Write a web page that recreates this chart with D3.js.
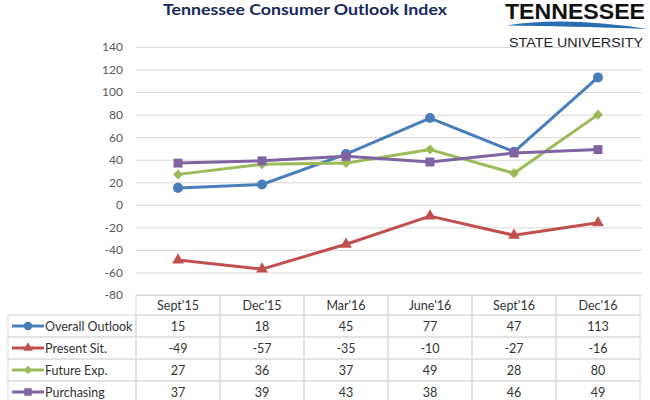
<!DOCTYPE html>
<html lang="en">
<head>
    <meta charset="UTF-8">
    <title>Tennessee Consumer Outlook Index</title>
    <script src="https://d3js.org/d3.v7.min.js"></script>
    <style>
        body { margin: 0; background: #fff; }
        text { font-family: Lato, "Open Sans", sans-serif; }
        .grid line { stroke: #d9d9d9; }
        .cell { fill: none; stroke: #d9d9d9; }
    </style>
</head>
<body>
    <svg id="chart" width="650" height="400"></svg>

    <script>
        // Data
        const categories = ["Sept'15", "Dec'15", "Mar'16", "June'16", "Sept'16", "Dec'16"];
        const overall = [15, 18, 45, 77, 47, 113];
        const present = [-49, -57, -35, -10, -27, -16];
        const future = [27, 36, 37, 49, 28, 80];
        const purchasing = [37, 39, 43, 38, 46, 49];
        const seriesNames = ["Overall Outlook", "Present Sit.", "Future Exp.", "Purchasing"];
        const yTicks = [-80, -60, -40, -20, 0, 20, 40, 60, 80, 100, 120, 140];

        const series = [
            { name: seriesNames[0], values: overall, color: "#4a7ebb", symbol: d3.symbolCircle, size: 80, rot: 0 },
            { name: seriesNames[1], values: present, color: "#c0504d", symbol: d3.symbolTriangle, size: 60, rot: 0 },
            { name: seriesNames[2], values: future, color: "#9bbb59", symbol: d3.symbolSquare, size: 50, rot: 45 },
            { name: seriesNames[3], values: purchasing, color: "#8064a2", symbol: d3.symbolSquare, size: 80, rot: 0 }
        ];

        const svg = d3.select("#chart");

        // Scales
        const x = d3.scaleBand().domain(categories).range([136, 640]);
        const y = d3.scaleLinear().domain([-80, 140]).range([295, 47]);

        // Title
        svg.append("text")
            .attr("x", 163).attr("y", 15)
            .attr("textLength", 284).attr("lengthAdjust", "spacingAndGlyphs")
            .style("font-size", "15px").style("font-weight", "bold")
            .attr("fill", "#17295e")
            .text("Tennessee Consumer Outlook Index");

        // Logo
        svg.append("text")
            .attr("x", 505).attr("y", 18.5)
            .attr("textLength", 140).attr("lengthAdjust", "spacingAndGlyphs")
            .style("font-family", "'Liberation Sans Narrow', 'Liberation Sans', sans-serif")
            .style("font-size", "22px").style("font-weight", "bold")
            .attr("fill", "#111")
            .text("TENNESSEE");
        svg.append("path")
            .attr("d", "M506,25.5 Q565,16 648,29 Q565,26 506,25.5 Z")
            .attr("fill", "#2a6db5");
        svg.append("text")
            .attr("x", 509).attr("y", 46.5)
            .attr("textLength", 134).attr("lengthAdjust", "spacingAndGlyphs")
            .style("font-family", "'Liberation Sans', sans-serif")
            .style("font-size", "13.5px")
            .attr("fill", "#222")
            .text("STATE UNIVERSITY");

        // Y axis with gridlines
        const yAxis = svg.append("g")
            .attr("class", "grid")
            .attr("transform", "translate(136,0)")
            .call(d3.axisLeft(y).tickValues(yTicks).tickSize(-506).tickPadding(13)
                .tickFormat(d => String(d)));
        yAxis.select(".domain").remove();
        yAxis.selectAll("text")
            .attr("fill", "#595959")
            .style("font-size", "12px")
            .style("font-family", "Lato, sans-serif");

        // Lines and markers
        const line = d3.line()
            .x((d, i) => x(categories[i]) + x.bandwidth() / 2)
            .y(d => y(d));

        series.forEach(s => {
            svg.append("path")
                .datum(s.values)
                .attr("d", line)
                .attr("fill", "none")
                .attr("stroke", s.color)
                .attr("stroke-width", 3)
                .attr("stroke-linejoin", "round");

            svg.selectAll(null)
                .data(s.values)
                .enter()
                .append("path")
                .attr("d", d3.symbol().type(s.symbol).size(s.size))
                .attr("transform", (d, i) =>
                    `translate(${x(categories[i]) + x.bandwidth() / 2},${y(d)}) rotate(${s.rot})`)
                .attr("fill", s.color);
        });

        // Data table
        const tableTop = 295, headerH = 20, rowH = 22;
        const table = svg.append("g");

        // header cells
        categories.forEach(c => {
            table.append("rect").attr("class", "cell")
                .attr("x", x(c)).attr("y", tableTop)
                .attr("width", x.bandwidth()).attr("height", headerH);
            table.append("text")
                .attr("x", x(c) + x.bandwidth() / 2).attr("y", tableTop + 15)
                .attr("text-anchor", "middle")
                .attr("fill", "#333")
                .style("font-size", "12.5px")
                .text(c);
        });

        // value rows
        series.forEach((s, r) => {
            const rowY = tableTop + headerH + r * rowH;

            // legend cell
            table.append("rect").attr("class", "cell")
                .attr("x", 8).attr("y", rowY)
                .attr("width", 128).attr("height", rowH);
            table.append("line")
                .attr("x1", 12).attr("x2", 44)
                .attr("y1", rowY + rowH / 2).attr("y2", rowY + rowH / 2)
                .attr("stroke", s.color).attr("stroke-width", 3);
            table.append("path")
                .attr("d", d3.symbol().type(s.symbol).size(s.size * 0.7))
                .attr("transform", `translate(28,${rowY + rowH / 2}) rotate(${s.rot})`)
                .attr("fill", s.color);
            table.append("text")
                .attr("x", 45).attr("y", rowY + 16)
                .attr("fill", "#333")
                .style("font-size", "12.5px")
                .text(s.name);

            // value cells
            s.values.forEach((v, i) => {
                table.append("rect").attr("class", "cell")
                    .attr("x", x(categories[i])).attr("y", rowY)
                    .attr("width", x.bandwidth()).attr("height", rowH);
                table.append("text")
                    .attr("x", x(categories[i]) + x.bandwidth() / 2).attr("y", rowY + 16)
                    .attr("text-anchor", "middle")
                    .attr("fill", "#333")
                    .style("font-size", "12.5px")
                    .text(v);
            });
        });
    </script>
</body>
</html>
